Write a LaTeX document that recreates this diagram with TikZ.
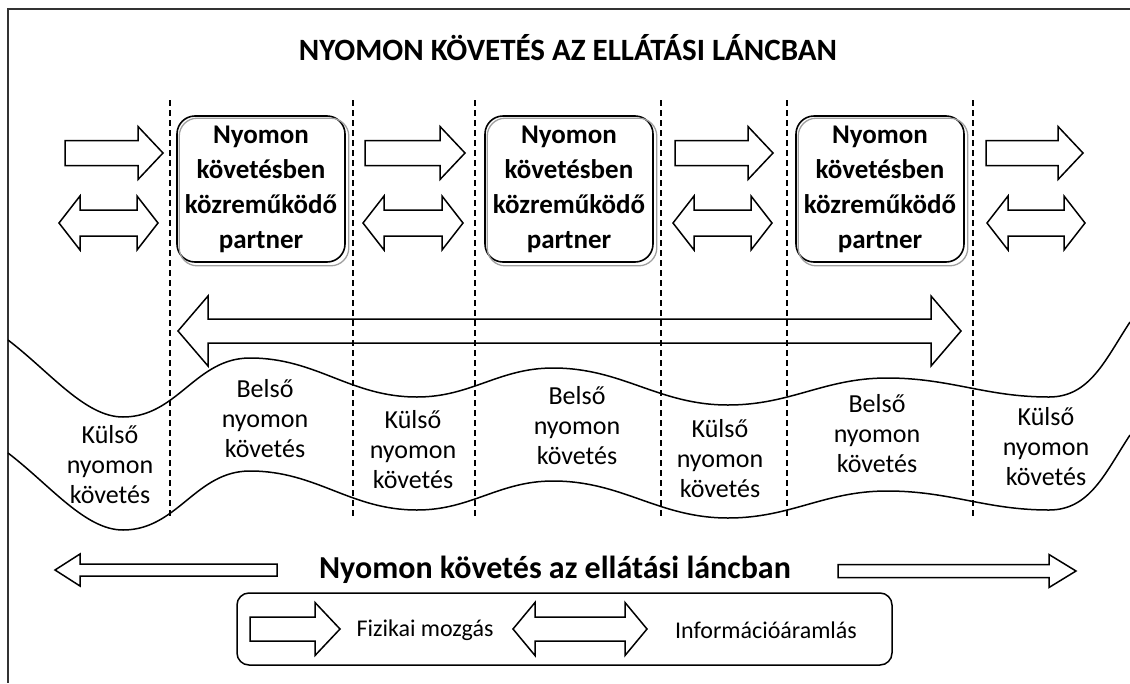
\documentclass[tikz,border=0pt]{standalone}
\usepackage{fontspec}
\setmainfont{Carlito}
\usetikzlibrary{positioning}

% block arrow pointing from #1 to #2 at height #3
\newcommand{\onearrow}[6]{%
  \draw[blockarrow] (#1,{#3-#4}) -- ({#2-(#6)},{#3-#4}) -- ({#2-(#6)},{#3-#5})
    -- (#2,#3) -- ({#2-(#6)},{#3+#5}) -- ({#2-(#6)},{#3+#4}) -- (#1,{#3+#4}) -- cycle;}
% block arrow with a head at both ends
\newcommand{\twoarrow}[6]{%
  \draw[blockarrow] (#1,#3) -- ({#1+#6},{#3-#5}) -- ({#1+#6},{#3-#4}) -- ({#2-#6},{#3-#4})
    -- ({#2-#6},{#3-#5}) -- (#2,#3) -- ({#2-#6},{#3+#5}) -- ({#2-#6},{#3+#4})
    -- ({#1+#6},{#3+#4}) -- ({#1+#6},{#3+#5}) -- cycle;}

\begin{document}
\begin{tikzpicture}[x=1pt, y=-1pt,
  blockarrow/.style = {draw, line width=1.5pt, fill=white, line join=miter},
  divider/.style = {dash pattern=on 6pt off 4pt, line width=1.3pt},
  partner/.style = {draw, line width=1.6pt, rounded corners=18pt, minimum width=168pt,
    minimum height=146pt, align=center, font=\fontsize{27}{35}\selectfont\bfseries},
  zone/.style = {align=center, font=\fontsize{26}{30}\selectfont},
  legendtext/.style = {font=\fontsize{24}{28}\selectfont},
  heading/.style = {font=\fontsize{31}{36}\selectfont\bfseries},
  wave/.style = {line width=1.5pt}]
\useasboundingbox (0,0) rectangle (1130,683);
\draw[line width=2.5pt, black!80] (1130,9) -- (8,9) -- (8,683);

\node[heading] (title) at (568,48) {NYOMON KÖVETÉS AZ ELLÁTÁSI LÁNCBAN};

% partners in the chain
\node[partner] (p1) at (261,189) {Nyomon\\követésben\\közreműködő\\partner};
\node[partner] (p2) at (569,189) {Nyomon\\követésben\\közreműködő\\partner};
\node[partner] (p3) at (880,189) {Nyomon\\követésben\\közreműködő\\partner};
\foreach \p in {p1,p2,p3}
  \draw[gray!75, line width=1.3pt, rounded corners=18pt]
    ([shift={(3,3)}]\p.south west) rectangle ([shift={(3,3)}]\p.north east);

% flows between partners
\foreach \a/\b in {65/163, 365/465, 675/773, 986/1083}
  \onearrow{\a}{\b}{153}{12.5}{26.5}{25};
\foreach \a/\b in {59/158, 363/463, 673/772, 987/1085}
  \twoarrow{\a}{\b}{223}{13}{27}{21};
\twoarrow{178}{961}{331}{12}{35}{30};

\foreach \x in {170,353,475,661,787,973}
  \draw[divider] (\x,100) -- (\x,517);

% waves
\foreach \dy in {0,113}
  \draw[wave, shift={(0,\dy)}] (8,340) .. controls (50,372) and (85,417) .. (123,417)
    to[out=0,in=180] (250,358) to[out=0,in=180] (417,397) to[out=0,in=180] (553,368)
    to[out=0,in=180] (728,405) to[out=0,in=180] (887,378) to[out=0,in=180] (1049,397)
    .. controls (1090,397) and (1105,360) .. (1130,322);

\node[zone] (k1) at (110,465) {Külső\\nyomon\\követés};
\node[zone] (b1) at (265,419) {Belső\\nyomon\\követés};
\node[zone] (k2) at (413,450) {Külső\\nyomon\\követés};
\node[zone] (b2) at (577,426) {Belső\\nyomon\\követés};
\node[zone] (k3) at (720,459) {Külső\\nyomon\\követés};
\node[zone] (b3) at (877,434) {Belső\\nyomon\\követés};
\node[zone] (k4) at (1046,447) {Külső\\nyomon\\követés};

% whole chain
\node[heading, font=\fontsize{32}{36}\selectfont\bfseries] (chain) at (555,570)
  {Nyomon követés az ellátási láncban};
\onearrow{277}{55}{570}{6}{16}{-25}
\onearrow{838}{1076}{571}{6.5}{16.5}{27}

% legend
\node[draw, line width=1.5pt, rounded corners=12pt, minimum width=655pt,
  minimum height=72pt] (legend) at (564.5,629) {};
\onearrow{250}{340}{629}{12}{26.5}{25}
\node[legendtext] (phys) at (425,630) {Fizikai mozgás};
\twoarrow{513}{647}{629}{12}{26.5}{22}
\node[legendtext] (info) at (766,630) {Információáramlás};
\end{tikzpicture}
\end{document}
